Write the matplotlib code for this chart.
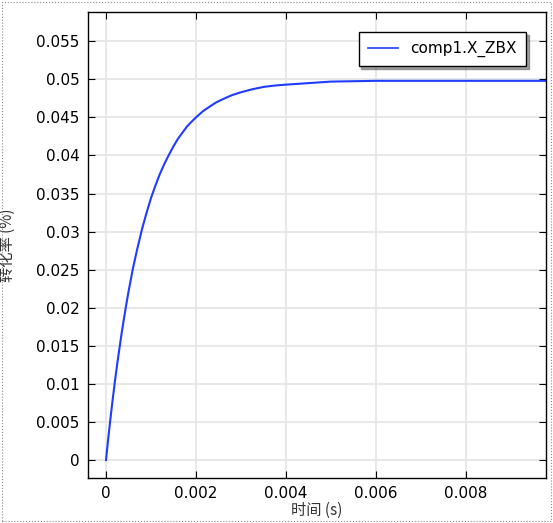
import matplotlib.pyplot as plt
from matplotlib.patches import Rectangle

plt.rcParams['font.family'] = ['DejaVu Sans']

# time (s) and conversion
t = [0, 0.00005, 0.0001, 0.00015, 0.0002, 0.00025, 0.0003, 0.00035, 0.0004,
     0.00045, 0.0005, 0.00055, 0.0006, 0.0007, 0.0008, 0.0009, 0.0010,
     0.0011, 0.0012, 0.0013, 0.0014, 0.0015, 0.0016, 0.0017, 0.0018, 0.0019,
     0.0020, 0.00215, 0.0023, 0.00245, 0.0026, 0.0028, 0.0030, 0.00325,
     0.0035, 0.00375, 0.0040, 0.0045, 0.0050, 0.0060, 0.0070, 0.0080,
     0.0090, 0.0098]
x_zbx = [0, 0.00283, 0.0055, 0.00802, 0.0104, 0.01265, 0.0147, 0.01675, 0.0186,
         0.0204, 0.0221, 0.02364, 0.0252, 0.02786, 0.0303, 0.03244, 0.0344,
         0.03607, 0.0376, 0.03893, 0.0401, 0.0412, 0.0422, 0.0430, 0.0438, 0.04442,
         0.0450, 0.04579, 0.0464, 0.04697, 0.0474, 0.04792, 0.0483, 0.04869,
         0.0490, 0.04918, 0.0493, 0.0495, 0.0497, 0.0498, 0.0498, 0.0498,
         0.0498, 0.0498]

xticks = [0, 0.002, 0.004, 0.006, 0.008]
xticklabels = ['0', '0.002', '0.004', '0.006', '0.008']
yticks = [0, 0.005, 0.01, 0.015, 0.02, 0.025, 0.03, 0.035, 0.04, 0.045, 0.05, 0.055]
yticklabels = ['0', '0.005', '0.01', '0.015', '0.02', '0.025', '0.03', '0.035',
               '0.04', '0.045', '0.05', '0.055']

fig = plt.figure(figsize=(5.53, 5.23), dpi=100)
ax = fig.add_axes([88/553, 45/523, 458/553, 466/523])

ax.plot(t, x_zbx, color='#1f3cff', lw=1.5, label='comp1.X_ZBX')

ax.set_xlim(-0.0004, 0.00978)
ax.set_ylim(-0.00236, 0.05884)
ax.set_xticks(xticks)
ax.set_xticklabels(xticklabels)
ax.set_yticks(yticks)
ax.set_yticklabels(yticklabels)
ax.grid(True, color='#e6e6e6', lw=1.3)
ax.set_axisbelow(True)
ax.tick_params(direction='in', length=5, top=True, right=True, labelsize=11,
               colors='black', pad=6)
for s in ax.spines.values():
    s.set_linewidth(1.0)

cjk = ['Noto Sans CJK SC', 'DejaVu Sans']
ax.set_xlabel('时间 (s)', family=cjk, fontsize=11, color='#333333', labelpad=0)
ax.set_ylabel('转化率 (%)', family=cjk, fontsize=11, color='#333333', labelpad=0)
ax.yaxis.set_label_coords(-72/458, 0.5)

leg = ax.legend(loc='upper right', fontsize=11, shadow=True, fancybox=False,
                framealpha=1, edgecolor='black', borderaxespad=1.3,
                handlelength=2.0, borderpad=0.6)
leg.get_frame().set_linewidth(1.0)
leg.get_lines()[0].set_linewidth(1.2)

# dotted outer border
fig.patches.append(Rectangle((2/553, 2/523), 549/553, 519/523, transform=fig.transFigure,
                             fill=False, ls=':', lw=0.8, color='#888888'))

fig.savefig('out.png', dpi=100)
